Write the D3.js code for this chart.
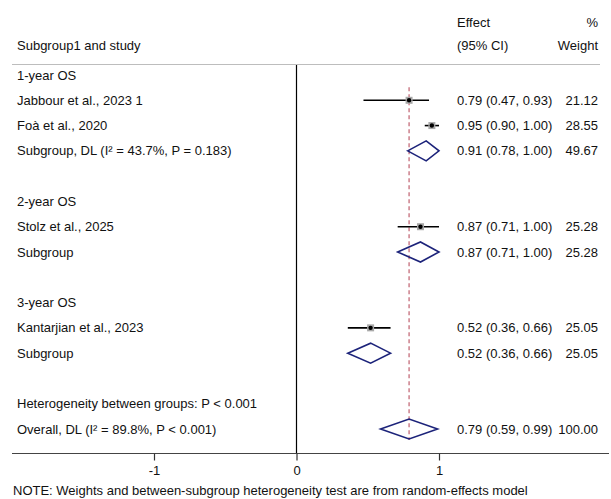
<!DOCTYPE html>
<html><head><meta charset="utf-8">
<script src="https://cdn.jsdelivr.net/npm/d3@7"></script>
<style>
body{margin:0;background:#fff;}
text{font-family:"Liberation Sans",Arial,sans-serif;font-size:13px;fill:#111;}
</style></head>
<body><svg id="c" width="611" height="499"></svg>
<script>
// row labels (index = row position)
const rowLabels = ["1-year OS","Jabbour et al., 2023 1","Foà et al., 2020","Subgroup, DL (I² = 43.7%, P = 0.183)","",
  "2-year OS","Stolz et al., 2025","Subgroup","",
  "3-year OS","Kantarjian et al., 2023","Subgroup","",
  "Heterogeneity between groups: P < 0.001","Overall, DL (I² = 89.8%, P < 0.001)"];
// estimates
const rowIndex = [1,2,3,6,7,10,11,14];
const kind     = ["study","study","pooled","study","pooled","study","pooled","pooled"];
const effect   = [0.79,0.95,0.91,0.87,0.87,0.52,0.52,0.79];
const lower    = [0.47,0.90,0.78,0.71,0.71,0.36,0.36,0.59];
const upper    = [0.93,1.00,1.00,1.00,1.00,0.66,0.66,0.99];
const weight   = [21.12,28.55,49.67,25.28,25.28,25.05,25.05,100.00];
const overallEffect = 0.79;
const tickVals = [-1,0,1];

const svg = d3.select("#c");
const x = d3.scaleLinear().domain([-1,1]).range([154,439]);
const y = d3.scaleLinear().domain([0,14]).range([75,429]);
const fmt = d3.format(".2f");

// header
svg.append("text").attr("x",457).attr("y",27).text("Effect");
svg.append("text").attr("x",598).attr("y",27).attr("text-anchor","end").text("%");
svg.append("text").attr("x",17).attr("y",50).text("Subgroup1 and study");
svg.append("text").attr("x",457).attr("y",50).text("(95% CI)");
svg.append("text").attr("x",598).attr("y",50).attr("text-anchor","end").text("Weight");
svg.append("line").attr("x1",12).attr("x2",600).attr("y1",64.5).attr("y2",64.5)
  .attr("stroke","#bdbdbd").attr("stroke-width",1.2);

// null line
svg.append("line").attr("x1",x(0)).attr("x2",x(0)).attr("y1",65).attr("y2",453)
  .attr("stroke","#000").attr("stroke-width",1.2);
// overall dashed line
svg.append("line").attr("x1",x(overallEffect)).attr("x2",x(overallEffect))
  .attr("y1",y(1)-13).attr("y2",y(14)+11)
  .attr("stroke","#bf5f6e").attr("stroke-width",1.2).attr("stroke-dasharray","4,3");

// row labels
svg.selectAll("text.lab").data(rowLabels).join("text").attr("class","lab")
  .attr("x",17).attr("y",(d,i)=>y(i)+4.5).text(d=>d);

const data = rowIndex.map((r,i)=>({r,k:kind[i],e:effect[i],lo:lower[i],hi:upper[i],w:weight[i]}));

// study markers
const st = data.filter(d=>d.k==="study");
svg.selectAll("line.ci").data(st).join("line").attr("class","ci")
  .attr("x1",d=>x(d.lo)).attr("x2",d=>x(d.hi)).attr("y1",d=>y(d.r)).attr("y2",d=>y(d.r))
  .attr("stroke","#000").attr("stroke-width",1.6);
svg.selectAll("rect.box").data(st).join("rect").attr("class","box")
  .attr("x",d=>x(d.e)-3.5).attr("y",d=>y(d.r)-3.5).attr("width",7).attr("height",7)
  .attr("fill","#a8a8a8");
svg.selectAll("circle.pt").data(st).join("circle").attr("class","pt")
  .attr("cx",d=>x(d.e)).attr("cy",d=>y(d.r)).attr("r",2.2).attr("fill","#000");

// diamonds
const pl = data.filter(d=>d.k==="pooled");
svg.selectAll("path.dia").data(pl).join("path").attr("class","dia")
  .attr("d",d=>{const c=y(d.r);return `M${x(d.lo)},${c}L${x(d.e)},${c-10}L${x(d.hi)},${c}L${x(d.e)},${c+10}Z`;})
  .attr("fill","none").attr("stroke","#1c237a").attr("stroke-width",1.6);

// effect and weight texts
svg.selectAll("text.eff").data(data).join("text").attr("class","eff")
  .attr("x",457).attr("y",d=>y(d.r)+4.5)
  .text(d=>`${fmt(d.e)} (${fmt(d.lo)}, ${fmt(d.hi)})`);
svg.selectAll("text.wt").data(data).join("text").attr("class","wt")
  .attr("x",598).attr("y",d=>y(d.r)+4.5).attr("text-anchor","end")
  .text(d=>fmt(d.w));

// axis
svg.append("line").attr("x1",12).attr("x2",609).attr("y1",453.5).attr("y2",453.5)
  .attr("stroke","#444").attr("stroke-width",1.2);
const ax = svg.append("g").attr("transform","translate(0,453.5)")
  .call(d3.axisBottom(x).tickValues(tickVals).tickSize(7).tickPadding(5).tickFormat(d=>String(d)));
ax.select(".domain").remove();
ax.selectAll("text").style("font-size","13px").style("font-family","'Liberation Sans',Arial,sans-serif").attr("fill","#111");
ax.selectAll("line").attr("stroke","#333").attr("stroke-width",1.2);

svg.append("text").attr("x",13).attr("y",495).text("NOTE: Weights and between-subgroup heterogeneity test are from random-effects model");
</script></body></html>
